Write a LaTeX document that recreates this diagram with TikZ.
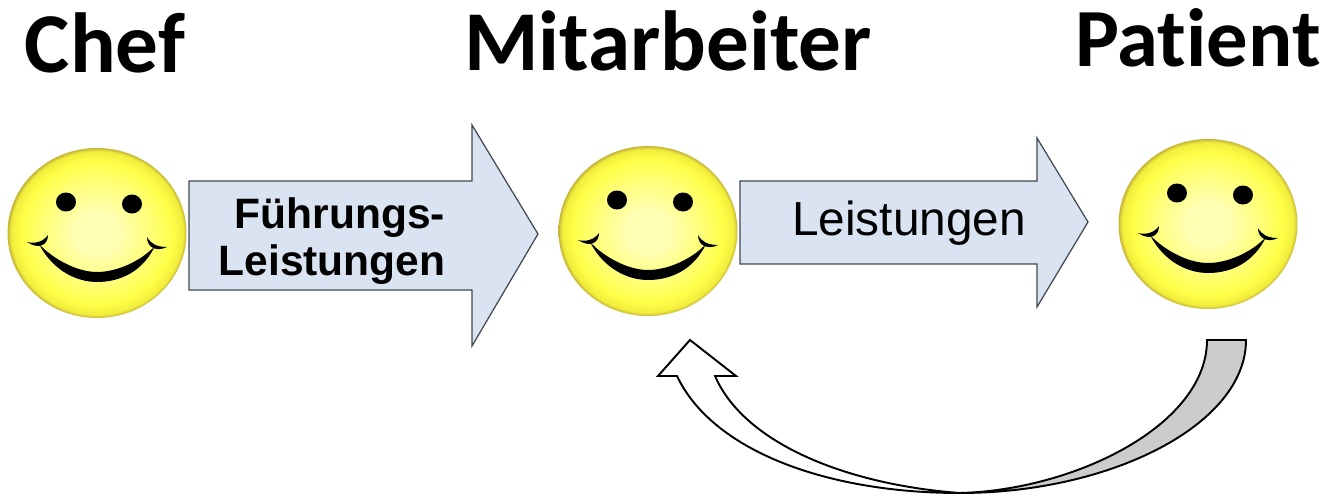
\documentclass[tikz,border=0pt]{standalone}
\usepackage{fontspec}
\setmainfont{Liberation Sans}
\newfontfamily\headfont[Ligatures=NoCommon]{Carlito}
\usepackage{xcolor}
\usetikzlibrary{shapes.geometric}
\definecolor{arrowblue}{HTML}{DAE3F1}
\definecolor{arrowline}{HTML}{404850}
\definecolor{returngrey}{HTML}{CCCCCC}
\definecolor{ballcentre}{HTML}{FFFFB4}
\definecolor{ballmid}{HTML}{FFFF78}
\definecolor{ballouter}{HTML}{FFFF48}
\definecolor{ballnear}{HTML}{F2EE3C}
\definecolor{ballrim}{HTML}{C4B438}
\pgfdeclareradialshading{smileyball}{\pgfpoint{0bp}{0bp}}{
	color(0bp)=(ballcentre);
	color(6bp)=(ballcentre);
	color(15bp)=(ballmid);
	color(21bp)=(ballouter);
	color(24bp)=(ballnear);
	color(25bp)=(ballrim);
	color(50bp)=(ballrim)}
\tikzset{
	heading/.style={font=\headfont\bfseries\fontsize{48.5}{48.5}\selectfont,anchor=base},
	face/.style={ellipse,shading=smileyball,minimum width=3.58cm,minimum height=3.4cm,inner sep=0pt},
	blockarrow/.style={draw=arrowline,fill=arrowblue,line width=0.7pt,line join=miter}
}
\begin{document}
\begin{tikzpicture}[x=0.02cm,y=-0.02cm]
		\useasboundingbox (0,0) rectangle (1330,497);
		% headings
		\node[heading] (chef) at (105,72) {Chef};
		\node[heading] (mitarbeiter) at (668,71) {Mitarbeiter};
		\node[heading,scale=0.97] (patient) at (1198,67) {Patient};
		% faces
		\foreach \nm/\cx/\cy in {facechef/97/233,facemitarbeiter/648/231,facepatient/1208/224}{
			\node[face] (\nm) at (\cx,\cy) {};
			\begin{scope}[shift={(\cx,\cy)}]
				\fill[black] (-31,-31) circle (10 and 9.5);
				\fill[black] (35,-29) circle (10 and 9.5);
				\fill[black] (-58,11) .. controls (-44,38) and (-20,49) .. (0,49) .. controls (24,49) and (46,38) .. (58,13) .. controls (44,28) and (20,39) .. (0,39) .. controls (-20,39) and (-44,26) .. cycle;
				\fill[black] (-70,9) .. controls (-62,11) and (-54,9) .. (-49,2) .. controls (-49,12) and (-58,17) .. cycle;
				\fill[black] (50,4) .. controls (54,11) and (60,14) .. (70,14) .. controls (60,19) and (50,15) .. cycle;
			\end{scope}
		}
		% big arrows
		\draw[blockarrow] (189,181) -- (472,181) -- (472,125) -- (538,234) -- (472,346) -- (472,290) -- (189,290) -- cycle;
		\draw[blockarrow] (740,181) -- (1037,181) -- (1037,138) -- (1088,222) -- (1037,307) -- (1037,264) -- (740,264) -- cycle;
		\node[font=\bfseries\fontsize{24.2}{26.6}\selectfont,align=center] (fuehrung) at (332,241) {\hspace*{9pt}Führungs-\\Leistungen};
		\node[font=\fontsize{27.2}{30}\selectfont] (leistungen) at (909,223) {Leistungen};
		% return arrow
		\draw[line width=1.1pt,fill=returngrey] (1207,340) -- (1246,340) .. controls (1246,425) and (1110,493) .. (960,493) .. controls (1075,490) and (1207,425) .. (1207,340) -- cycle;
		\draw[line width=1.1pt,fill=white] (960,493) .. controls (825,493) and (712,450) .. (677,376) -- (658,376) -- (690,340) -- (736,376) -- (715,376) .. controls (745,445) and (850,485) .. (960,493) -- cycle;
	\end{tikzpicture}
\end{document}
